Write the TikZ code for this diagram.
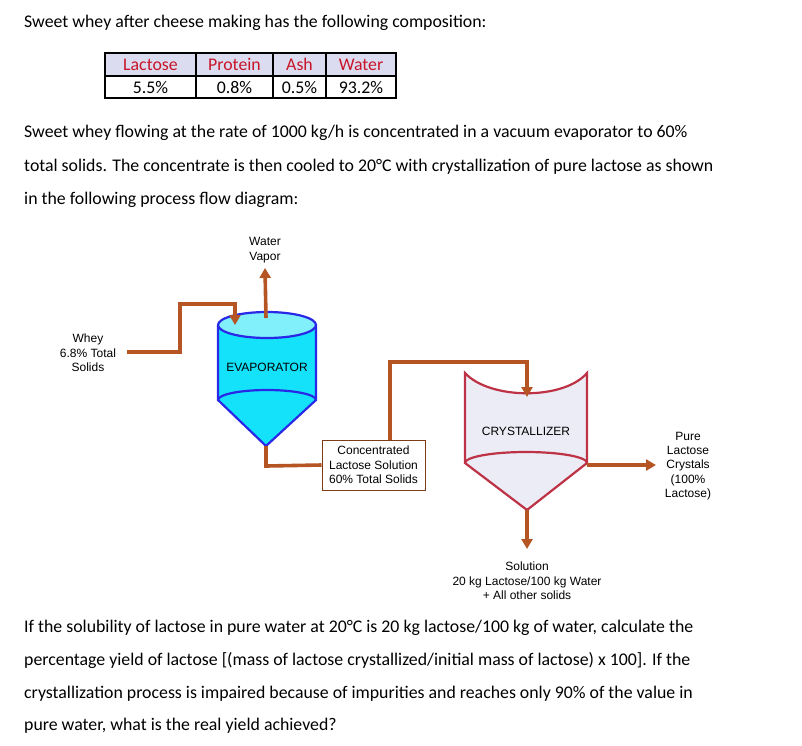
\documentclass[tikz,border=0pt]{standalone}
\usepackage{fontspec}
\setmainfont{Carlito}
\newfontfamily\labelfont{Liberation Sans}
\usetikzlibrary{positioning,arrows.meta}
\definecolor{pipe}{RGB}{180,85,35}
\definecolor{evapfill}{RGB}{20,225,250}
\definecolor{evaptop}{RGB}{130,240,250}
\definecolor{evapline}{RGB}{40,40,230}
\definecolor{crysfill}{RGB}{236,236,246}
\definecolor{crysline}{RGB}{190,50,70}
\definecolor{headfill}{RGB}{220,220,240}
\definecolor{headtext}{RGB}{200,20,40}

\begin{document}
\begin{tikzpicture}
  [x=1pt, y=-1pt,
  every node/.style={inner sep=0pt}]
  \tikzset{
    para/.style={anchor=base west, font=\fontsize{17.8}{20}\selectfont},
    lbl/.style={align=center, font=\labelfont\fontsize{12}{14.4}\selectfont},
    pipeline/.style={draw=pipe, line width=3.6pt},
    flow/.style={pipeline, -{Triangle[length=10pt,width=11pt]}},
    cell/.style={minimum height=22pt, font=\fontsize{17.8}{20}\selectfont},
  }
  \useasboundingbox (0,0) rectangle (802,745);

  % text above
  \node[para] (intro) at (24,27) {Sweet whey after cheese making has the following composition:};
  \node[para] (l1) at (24,137) {Sweet whey flowing at the rate of 1000 kg/h is concentrated in a vacuum evaporator to 60\%};
  \node[para] (l2) at (24,171) {total solids. The concentrate is then cooled to 20°C with crystallization of pure lactose as shown};
  \node[para] (l3) at (24,204) {in the following process flow diagram:};

  % table
  \fill[headfill] (105,53) rectangle (396,76);
  \draw[line width=1.2pt] (105,53) rectangle (396,98) (105,76) -- (396,76);
  \foreach \xa in {196,273,326} \draw[line width=1.2pt] (\xa,53) -- (\xa,98);
  \foreach \xa/\xb/\txt/\val [count=\i] in {105/196/Lactose/5.5\%, 196/273/Protein/0.8\%, 273/326/Ash/0.5\%, 326/396/Water/93.2\%} {
    \node[cell, text=headtext] (head\i) at ({(\xa+\xb)/2},64.5) {\txt};
    \node[cell] (val\i) at ({(\xa+\xb)/2},87) {\val};
  }

  % evaporator
  \draw[evapline, line width=2.2pt, fill=evapfill]
    (218,325) -- (218,400) -- (266,446) -- (316,400) -- (316,325);
  \draw[evapline, line width=2.2pt] (218,400) arc[start angle=180, end angle=360, x radius=49, y radius=10];
  \draw[evapline, line width=2.2pt, fill=evaptop] (267,325) ellipse[x radius=49, y radius=13];
  \node[lbl] (evap) at (267,367) {EVAPORATOR};
  \coordinate (evapin) at (235,325);
  \coordinate (evapout) at (266,446);

  % crystallizer
  \draw[crysline, line width=2.2pt, fill=crysfill]
    (465,373) .. controls (490,400) and (564,400) .. (587,373)
    -- (587,463) -- (527,510) -- (465,463) -- cycle;
  \draw[crysline, line width=2.2pt] (465,463) arc[start angle=180, end angle=360, x radius=61, y radius=11];
  \node[lbl] (crys) at (526,431) {CRYSTALLIZER};
  \coordinate (crysin) at (527,397);
  \coordinate (crysout) at (527,510);

  % labels
  \node[lbl] (whey) at (88,353) {Whey\\6.8\% Total\\Solids};
  \node[lbl] (vapor) at (265,250) {Water\\Vapor};
  \node[lbl, draw=pipe!70!black, line width=1pt, minimum width=103pt, minimum height=50pt] (conc) at (373.5,465) {Concentrated\\Lactose Solution\\60\% Total Solids};
  \node[lbl] (pure) at (688,466) {Pure\\Lactose\\Crystals\\(100\%\\Lactose)};
  \node[lbl] (sol) at (527,581) {Solution\\20 kg Lactose/100 kg Water\\+ All other solids};

  % pipes
  \draw[flow] (127,352) -- (180,352) -- (180,304) -- (235,304) -- (evapin);
  \draw[flow] (266,318) -- (vapor.south |- 0,268);
  \draw[pipeline] (evapout) -- (266,466) -- (conc.west);
  \draw[flow] (conc.north -| 390,0) -- (390,362) -- (527,362) -- (crysin);
  \draw[flow] (587,465) -- (656,465);
  \draw[flow] (crysout) -- (527,549);

  % text below
  \node[para] (q1) at (24,632) {If the solubility of lactose in pure water at 20°C is 20 kg lactose/100 kg of water, calculate the};
  \node[para] (q2) at (24,665) {percentage yield of lactose [(mass of lactose crystallized/initial mass of lactose) x 100]. If the};
  \node[para] (q3) at (24,698) {crystallization process is impaired because of impurities and reaches only 90\% of the value in};
  \node[para] (q4) at (24,730) {pure water, what is the real yield achieved?};
\end{tikzpicture}
\end{document}
